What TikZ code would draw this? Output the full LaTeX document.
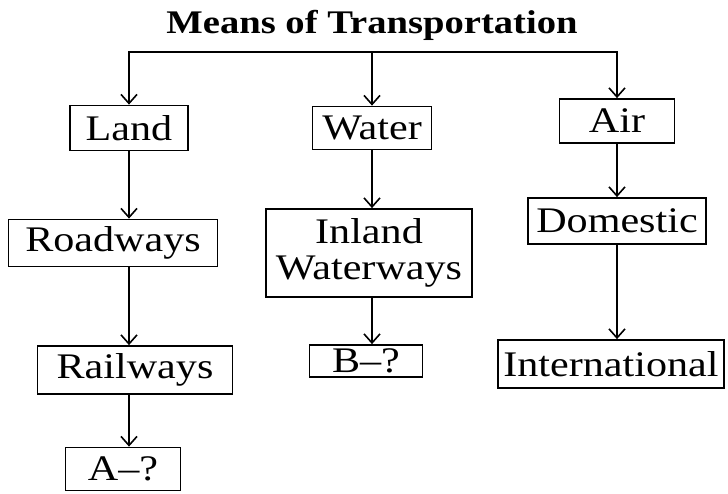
\documentclass[tikz,border=0pt]{standalone}
\usepackage{fontspec}
\setmainfont{Liberation Serif}[FakeStretch=1.17]
\usetikzlibrary{arrows.meta}
\tikzset{
  box/.style={draw=black, line width=1.8pt, rectangle, inner sep=0pt, align=center,
    font=\fontsize{36}{36}\selectfont, text=black},
  arr/.style={draw=black, line width=1.6pt, -{Straight Barb[length=9pt,width=16pt,line width=1.6pt]}},
  ln/.style={draw=black, line width=1.6pt}
}
\begin{document}
\begin{tikzpicture}[x=1pt,y=-1pt]
\useasboundingbox (0,0) rectangle (728,493);
\node[font=\bfseries\fontsize{33}{34}\selectfont, text=black] (title) at (372,25) {Means of Transportation};
\coordinate (hub) at (372,52);
\node[box, minimum width=118pt, minimum height=45pt] (land) at (129,128) {Land};
\node[box, minimum width=119pt, minimum height=43pt] (water) at (372,128) {Water};
\node[box, minimum width=115pt, minimum height=44pt] (air) at (617,121) {Air};
\node[box, minimum width=209pt, minimum height=47pt] (road) at (113,243) {Roadways};
\node[box, minimum width=206pt, minimum height=88pt] (inland) at (369,253) {Inland\\Waterways};
\node[box, minimum width=178pt, minimum height=46pt] (dom) at (617,221) {Domestic};
\node[box, minimum width=195pt, minimum height=48pt] (rail) at (135,370) {Railways};
\node[box, minimum width=113pt, minimum height=32pt] (bq) at (366,361) {B--?};
\node[box, minimum width=226pt, minimum height=48pt] (intl) at (611,364) {International};
\node[box, minimum width=115pt, minimum height=43pt] (aq) at (123,469) {A--?};
\draw[ln] (land.north |- hub) -- (air.north |- hub);
\draw[arr] (hub) -| (land.north);
\draw[arr] (hub) -- (hub |- water.north);
\draw[arr] (hub) -| (air.north);
\draw[arr] (land.south) -- (land.south |- road.north);
\draw[arr] (land.south |- road.south) -- (land.south |- rail.north);
\draw[arr] (land.south |- rail.south) -- (land.south |- aq.north);
\draw[arr] (water.south) -- (water.south |- inland.north);
\draw[arr] (water.south |- inland.south) -- (water.south |- bq.north);
\draw[arr] (air.south) -- (air.south |- dom.north);
\draw[arr] (dom.south) -- (dom.south |- intl.north);
\end{tikzpicture}
\end{document}
